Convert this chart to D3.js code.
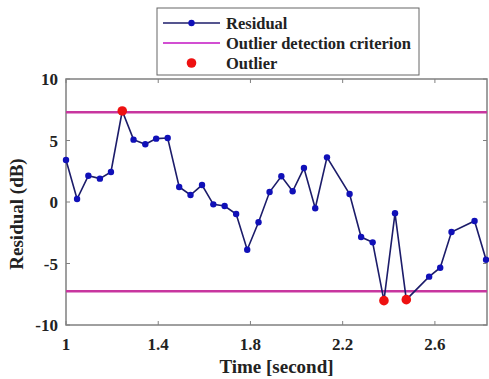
<!DOCTYPE html>
<html>
<head>
<meta charset="utf-8">
<script src="https://cdn.jsdelivr.net/npm/d3@7/dist/d3.min.js"></script>
<style>
  body { margin: 0; background: #fff; }
  text { font-family: "Liberation Serif", "Times New Roman", serif; font-weight: bold; }
</style>
</head>
<body>
<div id="chart"></div>
<script>
// residual series
const times = [1.0, 1.048, 1.097, 1.147, 1.195, 1.244, 1.293, 1.344, 1.391, 1.441,
  1.491, 1.54, 1.59, 1.639, 1.688, 1.738, 1.786, 1.835, 1.883, 1.934,
  1.983, 2.032, 2.081, 2.132, 2.23, 2.28, 2.33, 2.379, 2.427, 2.476,
  2.575, 2.623, 2.672, 2.772, 2.822];
const residuals = [3.41, 0.24, 2.14, 1.9, 2.44, 7.4, 5.07, 4.69, 5.15, 5.2,
  1.22, 0.57, 1.38, -0.19, -0.33, -0.98, -3.88, -1.65, 0.81, 2.09,
  0.87, 2.76, -0.51, 3.63, 0.65, -2.85, -3.28, -8.02, -0.92, -7.94,
  -6.07, -5.34, -2.44, -1.54, -4.69];
const criterion = [7.3, -7.25];
const outlierIdx = [5, 27, 29];
const xTicks = [1, 1.4, 1.8, 2.2, 2.6];
const yTicks = [-10, -5, 0, 5, 10];

const W = 489, H = 379;
const margin = { left: 66, right: 2, top: 79, bottom: 54 };

const svg = d3.select("#chart").append("svg")
  .attr("width", W)
  .attr("height", H);

const x = d3.scaleLinear().domain([1, 2.826]).range([margin.left, W - margin.right]);
const y = d3.scaleLinear().domain([-10, 10]).range([H - margin.bottom, margin.top]);

const axisColor = "#808080";

// box
svg.append("rect")
  .attr("x", x(1)).attr("y", y(10))
  .attr("width", x(2.826) - x(1)).attr("height", y(-10) - y(10))
  .attr("fill", "none").attr("stroke", axisColor).attr("stroke-width", 1.5);

// inward ticks
const tl = 4;
xTicks.forEach((t) => {
  svg.append("line").attr("x1", x(t)).attr("x2", x(t))
    .attr("y1", y(-10)).attr("y2", y(-10) - tl).attr("stroke", axisColor);
  svg.append("line").attr("x1", x(t)).attr("x2", x(t))
    .attr("y1", y(10)).attr("y2", y(10) + tl).attr("stroke", axisColor);
});
yTicks.forEach((t) => {
  svg.append("line").attr("x1", x(1)).attr("x2", x(1) + tl)
    .attr("y1", y(t)).attr("y2", y(t)).attr("stroke", axisColor);
  svg.append("line").attr("x1", x(2.826)).attr("x2", x(2.826) - tl)
    .attr("y1", y(t)).attr("y2", y(t)).attr("stroke", axisColor);
});

// tick labels
svg.selectAll(".xt").data(xTicks).enter().append("text")
  .attr("x", (d) => x(d)).attr("y", y(-10) + 25)
  .attr("text-anchor", "middle").attr("font-size", 17)
  .attr("fill", "#222")
  .text((d) => d);
svg.selectAll(".yt").data(yTicks).enter().append("text")
  .attr("x", x(1) - 8).attr("y", (d) => y(d) + 6)
  .attr("text-anchor", "end").attr("font-size", 17)
  .attr("fill", "#222")
  .text((d) => d);

// axis titles
svg.append("text")
  .attr("x", (x(1) + x(2.826)) / 2).attr("y", H - 6)
  .attr("text-anchor", "middle").attr("font-size", 19).attr("fill", "#222")
  .text("Time [second]");
svg.append("text")
  .attr("transform", `translate(23,${y(0) + 12}) rotate(-90)`)
  .attr("text-anchor", "middle").attr("font-size", 19).attr("fill", "#222")
  .text("Residual (dB)");

// criterion lines
const magenta = "#c8369f";
criterion.forEach((c) => {
  svg.append("line")
    .attr("x1", x(1)).attr("x2", x(2.826))
    .attr("y1", y(c)).attr("y2", y(c))
    .attr("stroke", magenta).attr("stroke-width", 2.5);
});

// residual line + markers
const pts = times.map((t, i) => ({ t: t, r: residuals[i] }));
const line = d3.line().x((d) => x(d.t)).y((d) => y(d.r));
svg.append("path")
  .attr("d", line(pts))
  .attr("fill", "none")
  .attr("stroke", "#1c1c6a")
  .attr("stroke-width", 1.6);
svg.selectAll(".pt").data(pts).enter().append("circle")
  .attr("cx", (d) => x(d.t)).attr("cy", (d) => y(d.r))
  .attr("r", 3.2).attr("fill", "#1010b8");
svg.selectAll(".out").data(outlierIdx.map((i) => pts[i])).enter().append("circle")
  .attr("cx", (d) => x(d.t)).attr("cy", (d) => y(d.r))
  .attr("r", 4.8).attr("fill", "#ee1111");

// legend
const lg = svg.append("g");
lg.append("rect")
  .attr("x", 157).attr("y", 8).attr("width", 262).attr("height", 67)
  .attr("fill", "#fff").attr("stroke", "#666").attr("stroke-width", 1);
const rows = [
  { label: "Residual", kind: "res" },
  { label: "Outlier detection criterion", kind: "crit" },
  { label: "Outlier", kind: "out" }
];
rows.forEach((row, i) => {
  const cy = 23 + i * 20;
  if (row.kind !== "out") {
    lg.append("line").attr("x1", 163).attr("x2", 220).attr("y1", cy).attr("y2", cy)
      .attr("stroke", row.kind === "res" ? "#1c1c6a" : "#d24fd2")
      .attr("stroke-width", row.kind === "res" ? 1.6 : 2);
  }
  if (row.kind === "res") {
    lg.append("circle").attr("cx", 191.5).attr("cy", cy).attr("r", 3.2).attr("fill", "#1010b8");
  }
  if (row.kind === "out") {
    lg.append("circle").attr("cx", 191.5).attr("cy", cy).attr("r", 4.8).attr("fill", "#ee1111");
  }
  lg.append("text").attr("x", 226).attr("y", cy + 5.5)
    .attr("font-size", 16.5).attr("fill", "#222")
    .text(row.label);
});
</script>
</body>
</html>
